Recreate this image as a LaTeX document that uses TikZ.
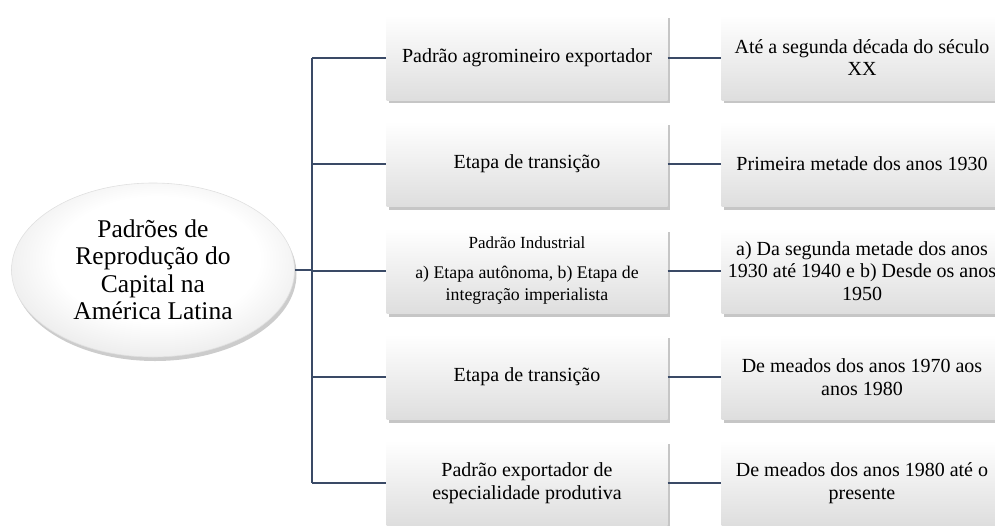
\documentclass[tikz,border=0pt]{standalone}
\usepackage{fontspec}
\setmainfont{Liberation Serif}
\usetikzlibrary{shadows,shapes.geometric}
\definecolor{linec}{HTML}{3A4A66}
\pgfdeclareradialshading{ovalshade}{\pgfpoint{1bp}{4bp}}{color(0bp)=(white); color(18bp)=(white); color(36bp)=(black!13); color(50bp)=(black!26); color(80bp)=(black!30)}
\tikzset{
  box/.style={rectangle, minimum width=281pt, minimum height=85pt, inner sep=2pt,
    align=center, top color=white, bottom color=black!13,
    drop shadow={shadow xshift=2pt, shadow yshift=-3pt, opacity=0.45},
    font=\fontsize{20}{22.5}\selectfont},
  oval/.style={ellipse, minimum width=283pt, minimum height=174pt, inner sep=0pt,
    align=center, shading=ovalshade, draw=black!12, line width=0.6pt,
    drop shadow={shadow xshift=2pt, shadow yshift=-4pt, opacity=0.4},
    font=\fontsize{25.5}{27.5}\selectfont},
  conn/.style={draw=linec, line width=2pt}
}
\begin{document}
\begin{tikzpicture}[x=1pt,y=-1pt]
\useasboundingbox (0,0) rectangle (995,525);
\clip (0,0) rectangle (995,525);
\node[oval] (e) at (153,270) {Padrões de\\Reprodução do\\Capital na\\América Latina};
\node[box] (m1) at (527,57.5) {Padrão agromineiro exportador};
\node[box] (m2) at (527,164) {Etapa de transição};
\node[box] (m3) at (527,271) {{\fontsize{17}{19}\selectfont Padrão Industrial}\\[7pt]{\fontsize{17.8}{17.5}\selectfont a) Etapa autônoma, b) Etapa de}\\{\fontsize{17.8}{17.5}\selectfont integração imperialista}};
\node[box] (m4) at (527,377) {Etapa de transição};
\node[box] (m5) at (527,483) {Padrão exportador de\\especialidade produtiva};
\node[box] (r1) at (862,57.5) {Até a segunda década do século\\XX};
\node[box] (r2) at (862,164) {Primeira metade dos anos 1930};
\node[box] (r3) at (862,271) {a) Da segunda metade dos anos\\1930 até 1940 e b) Desde os anos\\1950};
\node[box] (r4) at (862,377) {De meados dos anos 1970 aos\\anos 1980};
\node[box] (r5) at (862,483) {De meados dos anos 1980 até o\\presente};
\coordinate (hub) at (312,270);
\draw[conn] (e.east) -- (hub);
\draw[conn] (m1.west -| hub) -- (m5.west -| hub);
\foreach \i in {1,...,5}{
  \draw[conn] (m\i.west -| hub) -- (m\i.west);
  \draw[conn] (m\i.east) -- (r\i.west);
}
\end{tikzpicture}
\end{document}
